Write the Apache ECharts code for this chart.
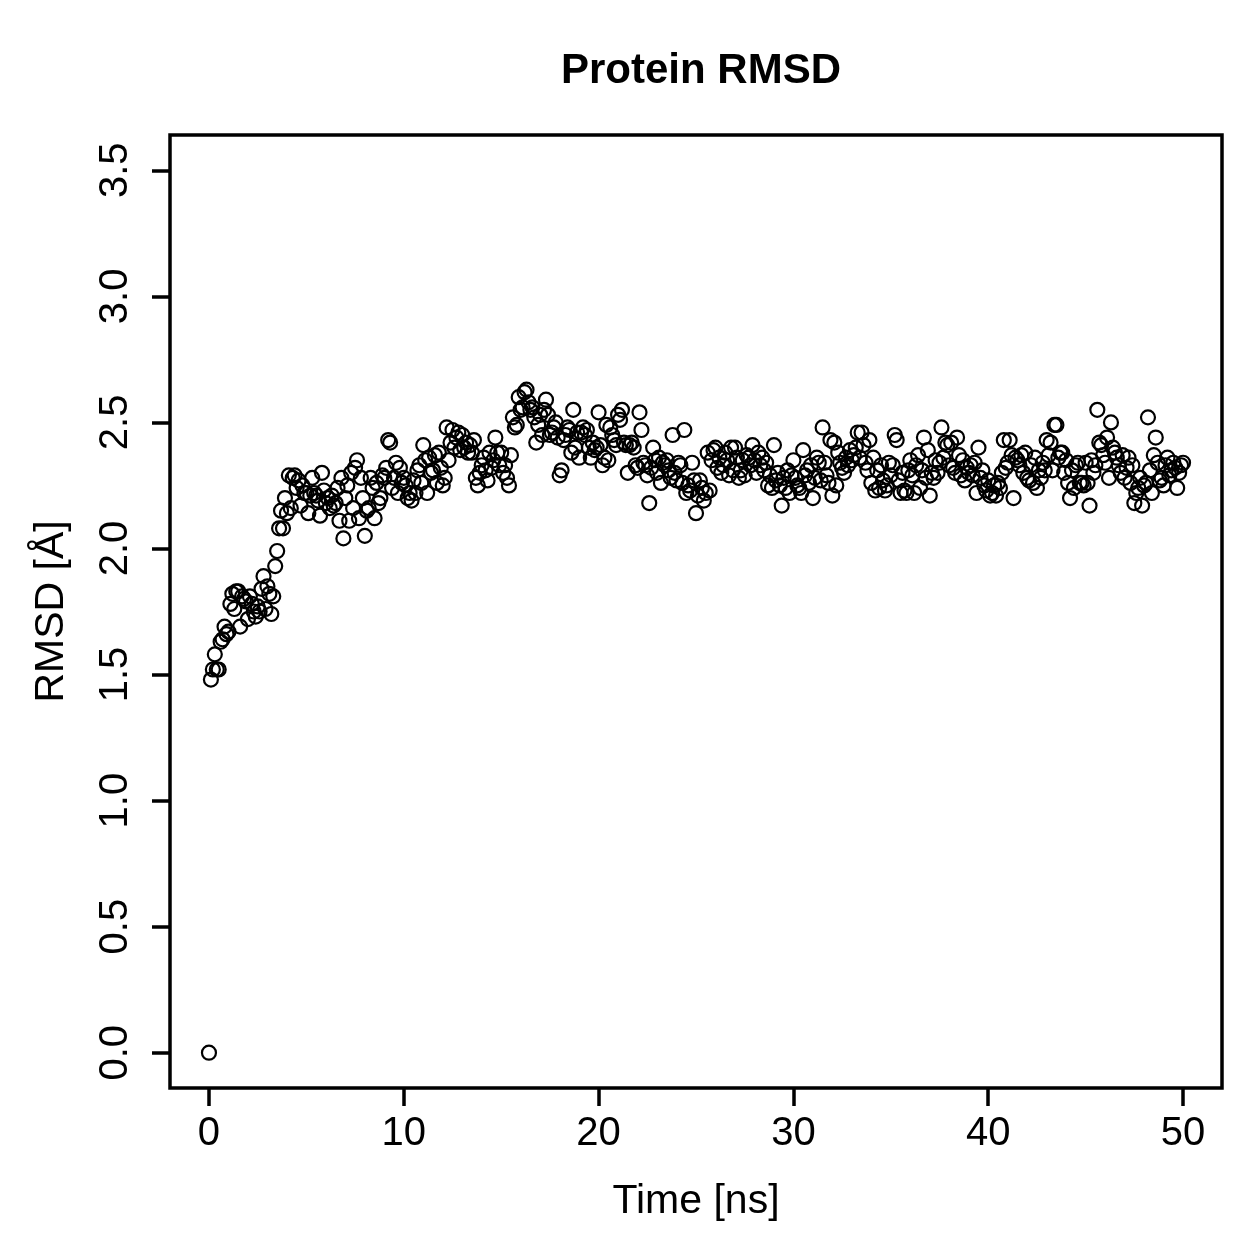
<!DOCTYPE html>
<html>
<head>
<meta charset="utf-8">
<title>Protein RMSD</title>
<script src="https://cdn.jsdelivr.net/npm/echarts@6/dist/echarts.min.js"></script>
<style>
  html, body { margin: 0; padding: 0; background: #fff; }
  #chart { width: 1259px; height: 1259px; }
</style>
</head>
<body>
<div id="chart"></div>
<script>
// sampling step of the trajectory (ns)
var timeStep = 0.1;

// RMSD (Å), one row per nanosecond
var rmsd = [
  0.00, 1.48, 1.52, 1.58, 1.52, 1.52, 1.63, 1.64, 1.69, 1.66,
  1.67, 1.78, 1.82, 1.76, 1.83, 1.83, 1.69, 1.81, 1.80, 1.79,
  1.72, 1.81, 1.78, 1.75, 1.73, 1.77, 1.75, 1.84, 1.89, 1.76,
  1.85, 1.82, 1.74, 1.81, 1.93, 1.99, 2.08, 2.15, 2.08, 2.20,
  2.14, 2.29, 2.16, 2.28, 2.29, 2.24, 2.27, 2.17, 2.25, 2.22,
  2.22, 2.14, 2.21, 2.28, 2.22, 2.21, 2.19, 2.13, 2.30, 2.23,
  2.18, 2.20, 2.16, 2.21, 2.17, 2.18, 2.24, 2.11, 2.28, 2.04,
  2.20, 2.25, 2.11, 2.30, 2.16, 2.32, 2.35, 2.12, 2.28, 2.20,
  2.05, 2.15, 2.16, 2.28, 2.24, 2.12, 2.26, 2.18, 2.20, 2.29,
  2.28, 2.32, 2.43, 2.42, 2.24, 2.28, 2.34, 2.22, 2.32, 2.26,
  2.28, 2.25, 2.20, 2.22, 2.19, 2.27, 2.22, 2.31, 2.33, 2.26,
  2.41, 2.35, 2.22, 2.36, 2.30, 2.31, 2.37, 2.26, 2.38, 2.32,
  2.25, 2.28, 2.48, 2.35, 2.42, 2.47, 2.40, 2.44, 2.46, 2.39,
  2.45, 2.40, 2.42, 2.38, 2.41, 2.38, 2.43, 2.28, 2.25, 2.30,
  2.33, 2.36, 2.31, 2.27, 2.38, 2.32, 2.35, 2.44, 2.38, 2.33,
  2.38, 2.30, 2.33, 2.28, 2.25, 2.37, 2.52, 2.48, 2.49, 2.60,
  2.55, 2.56, 2.62, 2.63, 2.58, 2.55, 2.56, 2.52, 2.42, 2.49,
  2.53, 2.45, 2.55, 2.59, 2.53, 2.45, 2.46, 2.48, 2.50, 2.44,
  2.29, 2.31, 2.43, 2.45, 2.48, 2.47, 2.38, 2.55, 2.40, 2.46,
  2.36, 2.46, 2.48, 2.45, 2.47, 2.40, 2.36, 2.42, 2.39, 2.40,
  2.54, 2.41, 2.33, 2.36, 2.49, 2.35, 2.48, 2.45, 2.43, 2.41,
  2.53, 2.51, 2.55, 2.42, 2.41, 2.30, 2.41, 2.42, 2.40, 2.33,
  2.32, 2.54, 2.47, 2.34, 2.33, 2.29, 2.18, 2.32, 2.40, 2.35,
  2.30, 2.36, 2.26, 2.34, 2.33, 2.35, 2.31, 2.28, 2.45, 2.30,
  2.27, 2.34, 2.33, 2.26, 2.47, 2.22, 2.25, 2.23, 2.34, 2.27,
  2.14, 2.21, 2.27, 2.24, 2.19, 2.22, 2.38, 2.23, 2.35, 2.39,
  2.40, 2.32, 2.36, 2.30, 2.33, 2.38, 2.35, 2.29, 2.40, 2.31,
  2.40, 2.36, 2.28, 2.31, 2.35, 2.29, 2.37, 2.36, 2.33, 2.41,
  2.35, 2.30, 2.38, 2.33, 2.36, 2.31, 2.34, 2.25, 2.29, 2.24,
  2.41, 2.27, 2.30, 2.25, 2.17, 2.28, 2.24, 2.31, 2.22, 2.29,
  2.35, 2.28, 2.25, 2.24, 2.22, 2.39, 2.29, 2.31, 2.26, 2.33,
  2.20, 2.28, 2.36, 2.34, 2.27, 2.48, 2.34, 2.29, 2.26, 2.43,
  2.21, 2.42, 2.25, 2.38, 2.34, 2.32, 2.30, 2.36, 2.33, 2.39,
  2.35, 2.37, 2.40, 2.46, 2.36, 2.46, 2.41, 2.34, 2.31, 2.43,
  2.26, 2.36, 2.23, 2.31, 2.24, 2.33, 2.27, 2.23, 2.25, 2.34,
  2.29, 2.33, 2.45, 2.43, 2.27, 2.22, 2.30, 2.23, 2.22, 2.31,
  2.35, 2.29, 2.22, 2.33, 2.37, 2.24, 2.31, 2.44, 2.28, 2.39,
  2.21, 2.30, 2.28, 2.35, 2.30, 2.34, 2.48, 2.36, 2.42, 2.41,
  2.33, 2.42, 2.32, 2.30, 2.44, 2.37, 2.29, 2.35, 2.27, 2.32,
  2.30, 2.33, 2.29, 2.34, 2.22, 2.40, 2.28, 2.31, 2.25, 2.23,
  2.27, 2.21, 2.22, 2.25, 2.21, 2.26, 2.24, 2.30, 2.43, 2.32,
  2.34, 2.43, 2.37, 2.20, 2.36, 2.35, 2.33, 2.37, 2.30, 2.38,
  2.28, 2.27, 2.33, 2.26, 2.36, 2.24, 2.31, 2.28, 2.34, 2.31,
  2.43, 2.37, 2.42, 2.31, 2.49, 2.49, 2.36, 2.38, 2.38, 2.30,
  2.35, 2.26, 2.20, 2.31, 2.24, 2.33, 2.34, 2.26, 2.26, 2.25,
  2.34, 2.26, 2.17, 2.35, 2.30, 2.33, 2.55, 2.42, 2.41, 2.37,
  2.34, 2.44, 2.28, 2.50, 2.40, 2.38, 2.36, 2.33, 2.30, 2.37,
  2.28, 2.32, 2.36, 2.26, 2.33, 2.18, 2.22, 2.24, 2.28, 2.17,
  2.25, 2.26, 2.52, 2.31, 2.22, 2.37, 2.44, 2.34, 2.27, 2.28,
  2.25, 2.33, 2.36, 2.29, 2.31, 2.34, 2.32, 2.24, 2.30, 2.33,
  2.34
];

var xTicks = [0, 10, 20, 30, 40, 50];
var yTicks = [0, 0.5, 1, 1.5, 2, 2.5, 3, 3.5];

var points = [];
for (var i = 0; i < rmsd.length; i++) {
  points.push([+(i * timeStep).toFixed(1), rmsd[i]]);
}

var fontName = 'Liberation Sans';
var chart = echarts.init(document.getElementById('chart'));

var option = {
  animation: false,
  backgroundColor: '#ffffff',
  title: {
    text: 'Protein RMSD',
    left: 696,
    top: 45,
    textAlign: 'center',
    textStyle: { fontFamily: fontName, fontSize: 42, fontWeight: 'bold', color: '#000' }
  },
  grid: {
    show: true,
    left: 170,
    right: 37,
    top: 135,
    bottom: 171,
    borderColor: '#000',
    borderWidth: 3.5
  },
  xAxis: {
    type: 'value',
    min: -2,
    max: 52,
    name: 'Time [ns]',
    nameLocation: 'middle',
    nameGap: 93,
    nameTextStyle: { fontFamily: fontName, fontSize: 41, color: '#000' },
    axisLine: { show: false, onZero: false },
    splitLine: { show: false },
    axisTick: {
      show: true,
      inside: false,
      customValues: xTicks,
      length: 18,
      lineStyle: { color: '#000', width: 3.5 }
    },
    axisLabel: {
      customValues: xTicks,
      margin: 26,
      fontFamily: fontName,
      fontSize: 40,
      color: '#000'
    }
  },
  yAxis: {
    type: 'value',
    min: -0.14,
    max: 3.64,
    name: 'RMSD [Å]',
    nameLocation: 'middle',
    nameGap: 98,
    nameTextStyle: { fontFamily: fontName, fontSize: 41, color: '#000' },
    axisLine: { show: false, onZero: false },
    splitLine: { show: false },
    axisTick: {
      show: true,
      inside: false,
      customValues: yTicks,
      length: 18,
      lineStyle: { color: '#000', width: 3.5 }
    },
    axisLabel: {
      customValues: yTicks,
      rotate: 90,
      align: 'center',
      verticalAlign: 'bottom',
      margin: 34,
      fontFamily: fontName,
      fontSize: 40,
      color: '#000',
      formatter: function (v) { return v.toFixed(1); }
    }
  },
  series: [{
    type: 'scatter',
    data: points,
    symbol: 'circle',
    symbolSize: 14,
    itemStyle: {
      color: 'rgba(0,0,0,0)',
      borderColor: '#000',
      borderWidth: 2.2,
      opacity: 1
    },
    emphasis: { disabled: true }
  }]
};

chart.setOption(option);
</script>
</body>
</html>
